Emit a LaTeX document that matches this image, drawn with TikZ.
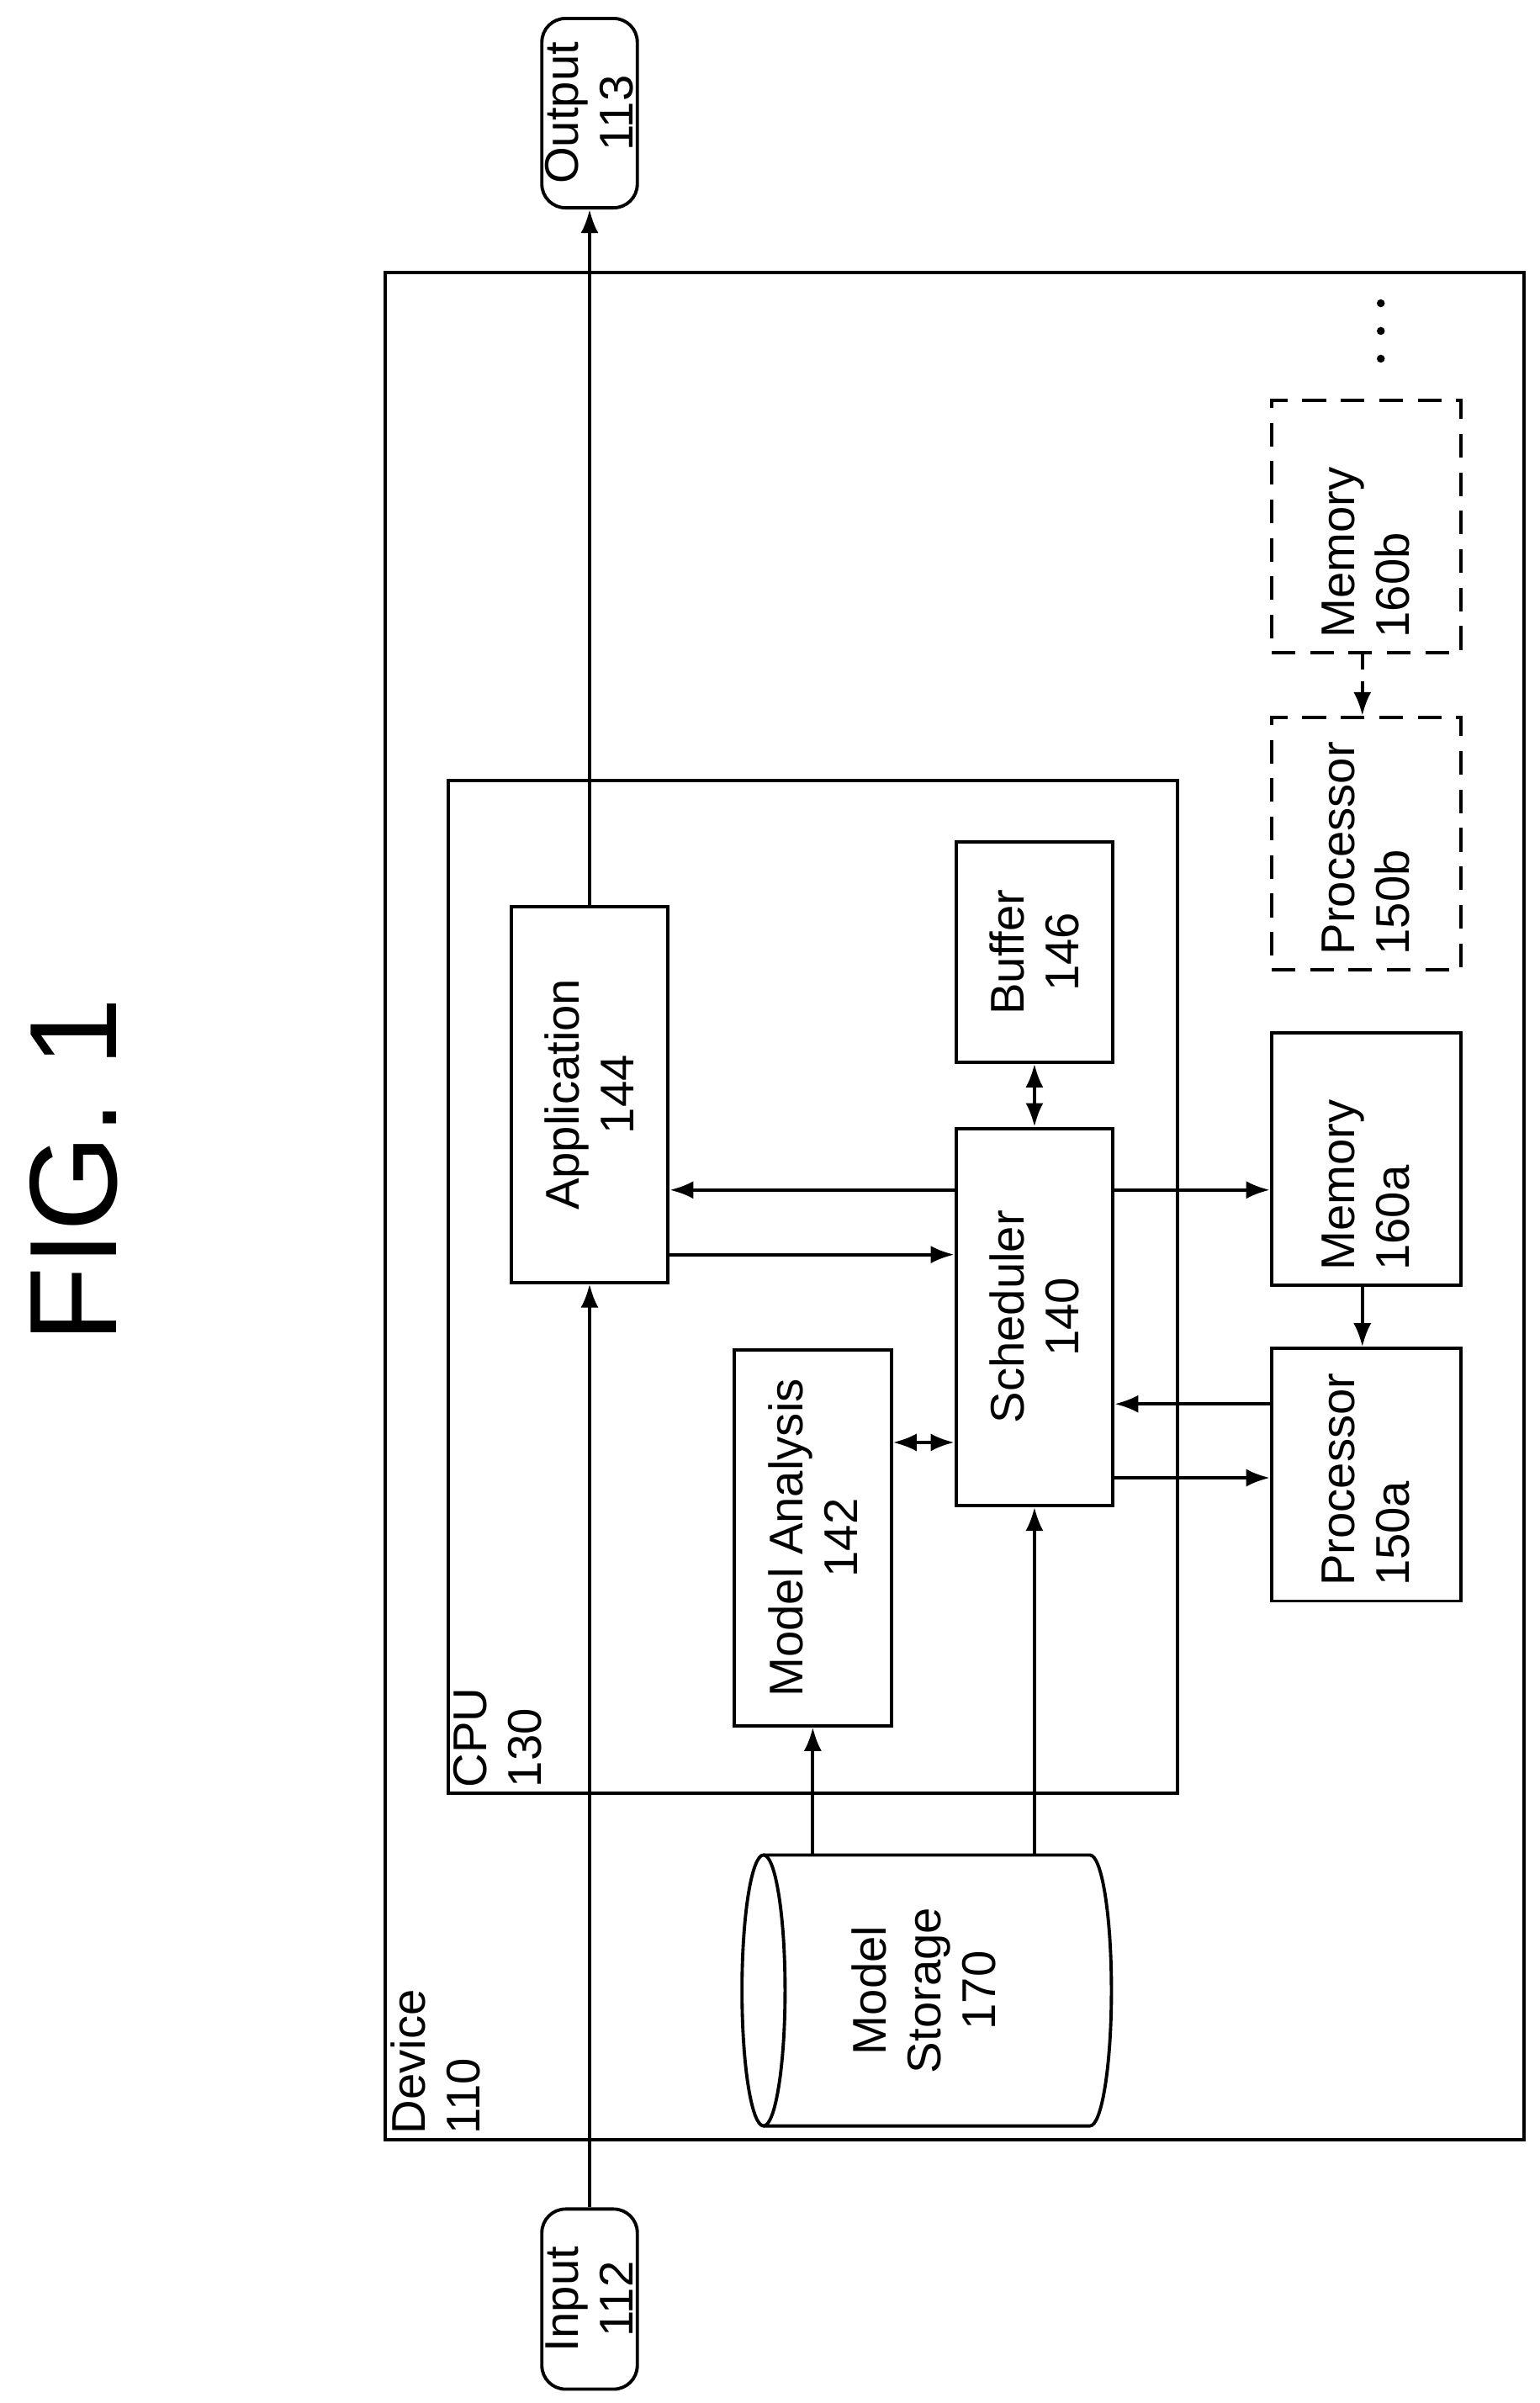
\documentclass[tikz,border=0pt]{standalone}
\usepackage{fontspec}
\setmainfont{Liberation Sans}
\usetikzlibrary{arrows.meta,fit}
\begin{document}
\begin{tikzpicture}[x=0.0183cm,y=-0.0183cm,line width=1.1pt,
 box/.style={draw,inner sep=0,fit={#1}},
 dbox/.style={draw,dashed,dash pattern=on 8pt off 5pt,inner sep=0,fit={#1}},
 rbox/.style={draw,rounded corners=8pt,inner sep=0,fit={#1}},
 lbl/.style={rotate=90,align=center,font=\fontsize{16}{18.5}\selectfont,inner sep=2pt},
 llbl/.style={rotate=90,align=left,font=\fontsize{16}{18.5}\selectfont,inner sep=2pt},
 arr/.style={-{Latex[length=8pt,width=6pt]}},
 darr/.style={{Latex[length=8pt,width=6pt]}-{Latex[length=8pt,width=6pt]}}]
\useasboundingbox (0,0) rectangle (1000,1561);
\node[rotate=90,font=\fontsize{42}{48}\selectfont] (fig) at (48,760) {FIG. 1};
\node[box={(250,177)(990,1390)}] (dev) {};
\node[llbl,anchor=north west] at (dev.south west) {Device\\110};
\node[box={(291,507)(765,1165)}] (cpu) {};
\node[llbl,anchor=north west] at (cpu.south west) {CPU\\130};
\node[box={(332,589)(434,833)}] (app) {};
\node[lbl] at (app) {Application\\144};
\node[box={(621,547)(723,690)}] (buf) {};
\node[lbl] at (buf) {Buffer\\146};
\node[box={(621,733)(723,978)}] (sch) {};
\node[lbl] at (sch) {Scheduler\\140};
\node[box={(477,877)(579,1121)}] (ma) {};
\node[lbl] at (ma) {Model Analysis\\142};
\node[box={(826,671)(949,835)}] (mema) {};
\node[llbl,anchor=west] at ([yshift=3pt]mema.south) {Memory\\160a};
\node[box={(826,876)(949,1040)}] (proca) {};
\node[llbl,anchor=west] at ([yshift=3pt]proca.south) {Processor\\150a};
\node[dbox={(826,466)(949,630)}] (procb) {};
\node[llbl,anchor=west] at ([yshift=3pt]procb.south) {Processor\\150b};
\node[dbox={(826,260)(949,424)}] (memb) {};
\node[llbl,anchor=west] at ([yshift=3pt]memb.south) {Memory\\160b};
\node[rbox={(352,1435)(414,1552)}] (in) {};
\node[lbl] at (in) {Input\\112};
\node[rbox={(352,12)(414,135)}] (out) {};
\node[lbl] at (out) {Output\\113};
\foreach \yy in {197,215,233} \fill (897,\yy) circle (2.6);
% cylinder
\draw (496,1293) ellipse [x radius=14, y radius=88];
\draw (496,1205) -- (708,1205) arc[start angle=-90,end angle=90,x radius=14,y radius=88] -- (496,1381);
\node[lbl] (st) at (600,1293) {Model\\Storage\\170};
\coordinate (sttop1) at (528,1205);
\coordinate (sttop2) at (672,1205);
% connectors
\draw[arr] (in.north) -- (app.south);
\draw[arr] (app.north) -- (out.south);
\draw[arr] (sch.west |- 0,773) -- (app.east |- 0,773);
\draw[arr] (app.east |- 0,815) -- (sch.west |- 0,815);
\draw[darr] (buf.south) -- (sch.north);
\draw[darr] (ma.east |- 0,937) -- (sch.west |- 0,937);
\draw[arr] (sch.east |- 0,773) -- (mema.west |- 0,773);
\draw[arr] (proca.west |- 0,912) -- (sch.east |- 0,912);
\draw[arr] (sch.east |- 0,960) -- (proca.west |- 0,960);
\draw[arr] (mema.south -| 885,0) -- (proca.north -| 885,0);
\draw[arr,dashed,dash pattern=on 5pt off 4pt] (memb.south -| 885,0) -- (procb.north -| 885,0);
\draw[arr] (sttop1) -- (ma.south -| sttop1);
\draw[arr] (sttop2) -- (sch.south -| sttop2);
\end{tikzpicture}
\end{document}
